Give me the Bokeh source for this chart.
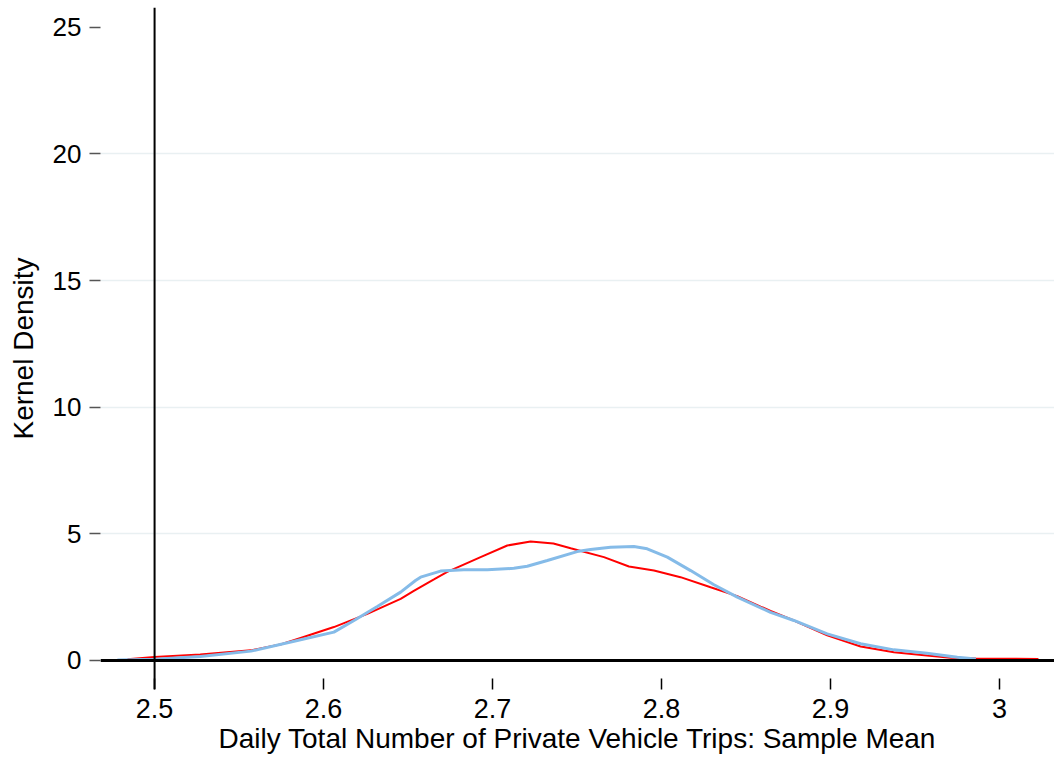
from bokeh.plotting import figure
from bokeh.models import FixedTicker, Span
from bokeh.embed import file_html
from bokeh.resources import INLINE

# Kernel density estimates
red_x = [2.484, 2.500, 2.527, 2.557, 2.575, 2.5864, 2.6061, 2.6259, 2.6456, 2.6534,
         2.6653, 2.6732, 2.6929, 2.7087, 2.7225, 2.736, 2.7462, 2.7659, 2.7807, 2.7955,
         2.8112, 2.829, 2.8448, 2.8586, 2.8645, 2.8783, 2.898, 2.9178, 2.9375, 2.957,
         2.971, 2.986, 3.005, 3.023]
red_y = [0.05, 0.14, 0.24, 0.40, 0.64, 0.89, 1.32, 1.84, 2.43, 2.75,
         3.20, 3.50, 4.08, 4.54, 4.70, 4.62, 4.43, 4.08, 3.71, 3.55,
         3.29, 2.89, 2.54, 2.13, 1.96, 1.58, 0.99, 0.55, 0.33, 0.20,
         0.11, 0.08, 0.07, 0.06]

blue_x = [2.478, 2.500, 2.527, 2.557, 2.5864, 2.6061, 2.618, 2.6318, 2.6456, 2.6544,
          2.6574, 2.6692, 2.683, 2.6969, 2.7126, 2.7205, 2.7324, 2.750, 2.758, 2.7698,
          2.7836, 2.7915, 2.8034, 2.8172, 2.831, 2.8448, 2.8645, 2.8783, 2.898, 2.9178,
          2.9375, 2.957, 2.975, 2.986]
blue_y = [0.02, 0.05, 0.16, 0.37, 0.82, 1.12, 1.58, 2.13, 2.70, 3.16,
          3.29, 3.53, 3.58, 3.58, 3.64, 3.72, 3.95, 4.30, 4.38, 4.47,
          4.50, 4.41, 4.08, 3.55, 2.99, 2.50, 1.90, 1.58, 1.05, 0.66,
          0.42, 0.29, 0.13, 0.06]

x_ticks = [2.5, 2.6, 2.7, 2.8, 2.9, 3.0]
x_tick_labels = ["2.5", "2.6", "2.7", "2.8", "2.9", "3"]
y_ticks = [0, 5, 10, 15, 20, 25]
y_grid = [5, 10, 15, 20]
ref_x = 2.5
ref_y = 0

FONT = "Liberation Sans"

p = figure(width=1054, height=759, output_backend="svg", toolbar_location=None,
           x_range=(2.468, 3.0325), y_range=(-1.145, 25.78),
           min_border_left=100, min_border_right=0, min_border_top=7,
           min_border_bottom=70)
p.outline_line_color = None
p.background_fill_color = "white"
p.border_fill_color = "white"

p.xgrid.visible = False
p.ygrid.ticker = FixedTicker(ticks=y_grid)
p.ygrid.grid_line_color = "#e9f0f2"
p.ygrid.grid_line_width = 1.5

# x axis
p.xaxis.ticker = FixedTicker(ticks=x_ticks)
p.xaxis.major_label_overrides = {t: l for t, l in zip(x_ticks, x_tick_labels)}
p.xaxis.axis_line_color = None
p.xaxis.major_tick_in = 11
p.xaxis.major_tick_out = 0
p.xaxis.major_tick_line_color = "black"
p.xaxis.major_tick_line_width = 1.5
p.xaxis.minor_tick_line_color = None
p.xaxis.major_label_standoff = 9
p.xaxis.major_label_text_font = FONT
p.xaxis.major_label_text_font_size = "27px"
p.xaxis.major_label_text_color = "black"
p.xaxis.axis_label = "Daily Total Number of Private Vehicle Trips: Sample Mean"
p.xaxis.axis_label_text_font = FONT
p.xaxis.axis_label_text_font_size = "28px"
p.xaxis.axis_label_text_font_style = "normal"
p.xaxis.axis_label_text_color = "black"
p.xaxis.axis_label_standoff = 2

# y axis
p.yaxis.ticker = FixedTicker(ticks=y_ticks)
p.yaxis.axis_line_color = None
p.yaxis.major_tick_in = 0
p.yaxis.major_tick_out = 11
p.yaxis.major_tick_line_color = "#555555"
p.yaxis.major_tick_line_width = 1.5
p.yaxis.minor_tick_line_color = None
p.yaxis.major_label_standoff = 8
p.yaxis.major_label_text_font = FONT
p.yaxis.major_label_text_font_size = "26px"
p.yaxis.major_label_text_color = "black"
p.yaxis.major_label_orientation = "horizontal"
p.yaxis.axis_label = "Kernel Density"
p.yaxis.axis_label_text_font = FONT
p.yaxis.axis_label_text_font_size = "28px"
p.yaxis.axis_label_text_font_style = "normal"
p.yaxis.axis_label_text_color = "black"
p.yaxis.axis_label_standoff = 11

# reference lines
p.add_layout(Span(location=ref_y, dimension="width", line_color="black", line_width=3))
p.add_layout(Span(location=ref_x, dimension="height", line_color="black", line_width=2))

p.line(red_x, red_y, line_color="#ff0000", line_width=2)
p.line(blue_x, blue_y, line_color="#85bbe8", line_width=3)

open("out.html", "w").write(file_html(p, INLINE))
